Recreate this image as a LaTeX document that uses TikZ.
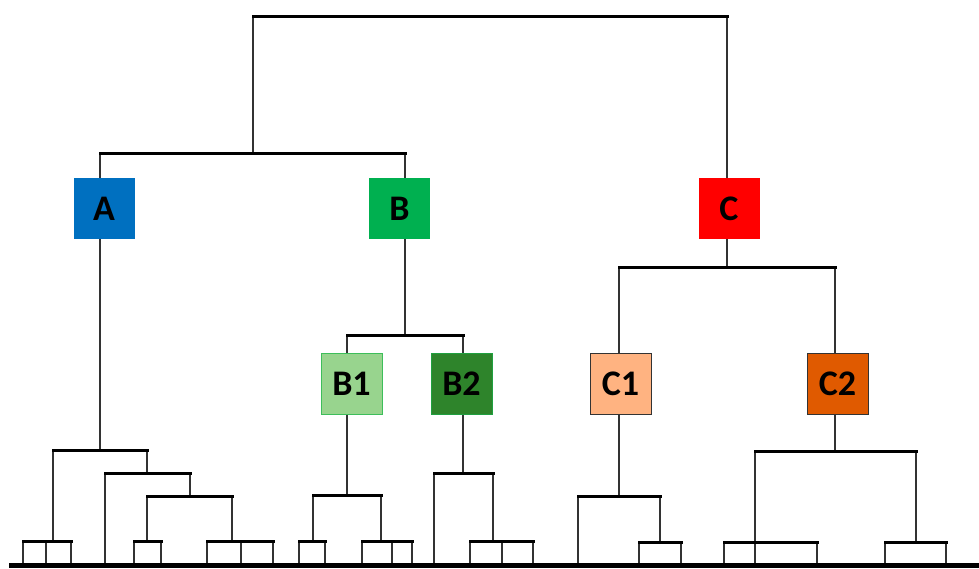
\documentclass[tikz,border=0pt]{standalone}
\usepackage{fontspec}
\setmainfont{Carlito}
\definecolor{cA}{HTML}{0070C0}
\definecolor{cB}{HTML}{00B050}
\definecolor{cC}{HTML}{FF0000}
\definecolor{cBa}{HTML}{98D48E}
\definecolor{cBaE}{HTML}{3DBE5A}
\definecolor{cBb}{HTML}{2E842B}
\definecolor{cBbE}{HTML}{1FA040}
\definecolor{cCa}{HTML}{FFB381}
\definecolor{cCb}{HTML}{E05A00}
\definecolor{ln}{HTML}{333333}
\tikzset{
  box/.style={minimum width=61pt,minimum height=61pt,inner sep=0pt,
    font=\fontsize{36}{42}\selectfont\bfseries,text=black},
  vl/.style={draw=ln,line width=1.6pt},
  hb/.style={draw=black,line width=3pt,line cap=rect},
  base/.style={draw=black,line width=5pt}
}
\begin{document}
\begin{tikzpicture}[x=1pt,y=-1pt]
\useasboundingbox (0,0) rectangle (979,568);
% boxes
\node[box,fill=cA] (A) at (104,208.5) {A};
\node[box,fill=cB] (B) at (399.5,208.5) {B};
\node[box,fill=cC] (C) at (729,208.5) {C};
\node[box,fill=cBa,draw=cBaE,line width=1pt] (B1) at (351.5,383.5) {B1};
\node[box,fill=cBb,draw=cBbE,line width=1pt] (B2) at (461.5,383.5) {B2};
\node[box,fill=cCa,draw=ln,line width=1pt] (C1) at (620.5,383.5) {C1};
\node[box,fill=cCb,draw=ln,line width=1pt] (C2) at (837.5,383.5) {C2};
% junction coordinates
\coordinate (r1) at (253,16); \coordinate (r2) at (727,16);
\coordinate (ab1) at (100,153); \coordinate (ab2) at (405,153); \coordinate (abm) at (253,153);
\coordinate (b12a) at (347,335); \coordinate (b12b) at (463,335); \coordinate (b12m) at (405,335);
\coordinate (c12a) at (619,267); \coordinate (c12b) at (835,267); \coordinate (c12m) at (727,267);
% top level verticals
\draw[vl] (abm) -- (r1);
\draw[vl] (r2) -- (C.north -| r2);
\draw[vl] (ab1) -- (A.north -| ab1);
\draw[vl] (ab2) -- (B.north -| ab2);
\draw[vl] (B.south -| b12m) -- (b12m);
\draw[vl] (b12a) -- (B1.north -| b12a);
\draw[vl] (b12b) -- (B2.north -| b12b);
\draw[vl] (C.south -| c12m) -- (c12m);
\draw[vl] (c12a) -- (C1.north -| c12a);
\draw[vl] (c12b) -- (C2.north -| c12b);
% A subtree
\draw[vl] (A.south -| 100,0) -- (100,450);
\draw[vl] (53,450) -- (53,541);
\foreach \x in {23,46,71} \draw[vl] (\x,541) -- (\x,563);
\draw[vl] (147,450) -- (147,473);
\draw[vl] (105,473) -- (105,563);
\draw[vl] (190,473) -- (190,496);
\draw[vl] (147,496) -- (147,541);
\foreach \x in {134,161} \draw[vl] (\x,541) -- (\x,563);
\draw[vl] (232,496) -- (232,541);
\foreach \x in {207,241,273} \draw[vl] (\x,541) -- (\x,563);
% B1 subtree
\draw[vl] (B1.south -| 347,0) -- (347,495);
\draw[vl] (313,495) -- (313,541);
\foreach \x in {299,325} \draw[vl] (\x,541) -- (\x,563);
\draw[vl] (381,495) -- (381,541);
\foreach \x in {362,392,412} \draw[vl] (\x,541) -- (\x,563);
% B2 subtree
\draw[vl] (B2.south -| 463,0) -- (463,473);
\draw[vl] (434,473) -- (434,563);
\draw[vl] (493,473) -- (493,541);
\foreach \x in {470,502,533} \draw[vl] (\x,541) -- (\x,563);
% C1 subtree
\draw[vl] (C1.south -| 619,0) -- (619,496);
\draw[vl] (578,496) -- (578,563);
\draw[vl] (660,496) -- (660,542);
\foreach \x in {639,681} \draw[vl] (\x,542) -- (\x,563);
% C2 subtree
\draw[vl] (C2.south -| 835,0) -- (835,451);
\draw[vl] (755,451) -- (755,563);
\foreach \x in {724,817} \draw[vl] (\x,542) -- (\x,563);
\draw[vl] (916,451) -- (916,542);
\foreach \x in {885,946} \draw[vl] (\x,542) -- (\x,563);
% horizontal bars
\draw[hb] (r1) -- (r2);
\draw[hb] (ab1) -- (ab2);
\draw[hb] (b12a) -- (b12b);
\draw[hb] (c12a) -- (c12b);
\draw[hb] (53,450) -- (147,450);
\draw[hb] (23,541) -- (71,541);
\draw[hb] (105,473) -- (190,473);
\draw[hb] (147,496) -- (232,496);
\draw[hb] (134,541) -- (161,541);
\draw[hb] (207,541) -- (273,541);
\draw[hb] (313,495) -- (381,495);
\draw[hb] (299,541) -- (325,541);
\draw[hb] (362,541) -- (412,541);
\draw[hb] (434,473) -- (493,473);
\draw[hb] (470,541) -- (533,541);
\draw[hb] (578,496) -- (660,496);
\draw[hb] (639,542) -- (681,542);
\draw[hb] (755,451) -- (916,451);
\draw[hb] (724,542) -- (817,542);
\draw[hb] (885,542) -- (946,542);
% baseline
\coordinate (bl1) at (9,565.5); \coordinate (bl2) at (979,565.5);
\draw[base] (bl1) -- (bl2);
\end{tikzpicture}
\end{document}
